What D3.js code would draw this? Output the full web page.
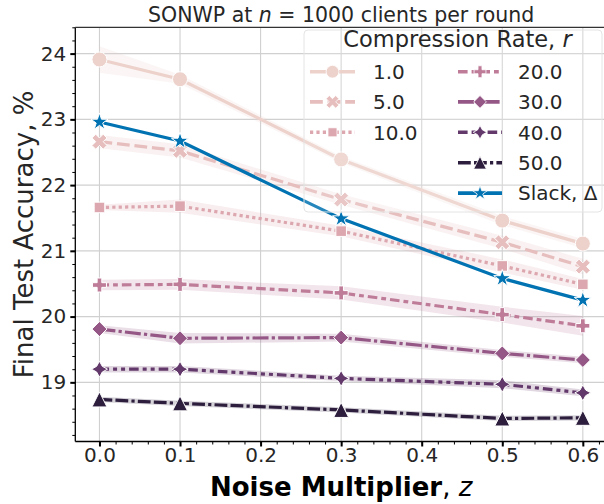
<!DOCTYPE html>
<html><head><meta charset="utf-8">
<script src="https://cdn.jsdelivr.net/npm/d3@7"></script>
<style>body{margin:0;background:#fff} svg{display:block;font-family:"DejaVu Sans",sans-serif}</style>
</head><body>
<svg id="c" width="604" height="504"></svg>
<script>
// ---------------- data ----------------
const noise = [0.0, 0.1, 0.3, 0.5, 0.6];
const rateLabels = ["1.0", "5.0", "10.0", "20.0", "30.0", "40.0", "50.0"];
const rateValues = [1, 5, 10, 20, 30, 40, 50];
const acc_r1  = [23.91, 23.61, 22.39, 21.46, 21.11];
const acc_r5  = [22.66, 22.52, 21.78, 21.13, 20.76];
const acc_r10 = [21.66, 21.68, 21.30, 20.77, 20.49];
const acc_r20 = [20.48, 20.49, 20.36, 20.03, 19.86];
const acc_r30 = [19.81, 19.67, 19.68, 19.44, 19.34];
const acc_r40 = [19.20, 19.20, 19.06, 18.97, 18.84];
const acc_r50 = [18.74, 18.68, 18.58, 18.45, 18.46];
// half-widths of the shaded confidence bands
const ci_r1  = [0.20, 0.07, 0.05, 0.07, 0.07];
const ci_r5  = [0.10, 0.10, 0.08, 0.10, 0.12];
const ci_r10 = [0.04, 0.10, 0.08, 0.10, 0.08];
const ci_r20 = [0.08, 0.08, 0.10, 0.12, 0.15];
const ci_r30 = [0.06, 0.08, 0.06, 0.05, 0.05];
const ci_r40 = [0.05, 0.05, 0.04, 0.06, 0.05];
const ci_r50 = [0.04, 0.04, 0.04, 0.04, 0.04];
const slackAcc = [22.96, 22.67, 21.49, 20.58, 20.25];
const slackLabel = "Slack, Δ";
const xTicks = [0.0, 0.1, 0.2, 0.3, 0.4, 0.5, 0.6];
const yTicks = [19, 20, 21, 22, 23, 24];

const accs = [acc_r1, acc_r5, acc_r10, acc_r20, acc_r30, acc_r40, acc_r50];
const cis = [ci_r1, ci_r5, ci_r10, ci_r20, ci_r30, ci_r40, ci_r50];

// ---------------- styles ----------------
const markers = ["o", "X", "sq", "P", "D", "S4", "^"];
const dashes = [[], [4, 1.5], [1, 1], [3, 1.25, 1.5, 1.25], [5, 1, 1, 1], [3, 1.25, 1.25, 1.25, 1.25, 1.25], [4, 1, 4, 1, 1, 1]];
const LW = 3.2;
const slackColor = "#0173b2";
const textColor = "#262626";

// seaborn default cubehelix palette for numeric hue
function cubehelix(x) {
  const gamma = 1, start = 0, rot = 0.4, hue = 0.8;
  const f = (p0, p1) => {
    const xg = Math.pow(x, gamma);
    const a = hue * xg * (1 - xg) / 2;
    const phi = 2 * Math.PI * (start / 3 + rot * x);
    return Math.max(0, Math.min(1, xg + a * (p0 * Math.cos(phi) + p1 * Math.sin(phi))));
  };
  return d3.rgb(255 * f(-0.14861, 1.78277), 255 * f(-0.29227, -0.90649), 255 * f(1.97294, 0)).formatHex();
}
const rmin = d3.min(rateValues), rmax = d3.max(rateValues);
const colors = rateValues.map(r => cubehelix(0.85 - 0.7 * (r - rmin) / (rmax - rmin)));

// ---------------- layout ----------------
const svg = d3.select("#c");
const L = 75.3, R = 607, T = 27.3, B = 441.5;
const x = d3.scaleLinear().domain([-0.03, 0.63]).range([L, R]);
const y = d3.scaleLinear().domain([18.1, 24.4]).range([B, T]);

svg.append("defs").append("clipPath").attr("id", "clip")
  .append("rect").attr("x", L).attr("y", T).attr("width", R - L).attr("height", B - T);

// grid
const grid = svg.append("g");
grid.selectAll(".gx").data(xTicks).enter().append("line")
  .attr("x1", d => x(d)).attr("x2", d => x(d)).attr("y1", T).attr("y2", B)
  .attr("stroke", "#d0d0d0").attr("stroke-width", 1.1);
grid.selectAll(".gy").data(yTicks).enter().append("line")
  .attr("y1", d => y(d)).attr("y2", d => y(d)).attr("x1", L).attr("x2", R)
  .attr("stroke", "#d0d0d0").attr("stroke-width", 1.1);

// marker paths (matplotlib-like)
function poly(pts) { return "M" + pts.map(p => p[0].toFixed(2) + "," + p[1].toFixed(2)).join("L") + "Z"; }
function regPoly(n, r, angDeg) {
  const pts = [];
  for (let i = 0; i < n; i++) {
    const th = 2 * Math.PI / n * i + Math.PI / 2 + angDeg * Math.PI / 180;
    pts.push([r * Math.cos(th), -r * Math.sin(th)]);
  }
  return poly(pts);
}
function regStar(n, r, inner, angDeg) {
  const pts = [];
  for (let i = 0; i < 2 * n; i++) {
    const th = 2 * Math.PI / (2 * n) * i + Math.PI / 2 + angDeg * Math.PI / 180;
    const rr = i % 2 === 0 ? r : r * inner;
    pts.push([rr * Math.cos(th), -rr * Math.sin(th)]);
  }
  return poly(pts);
}
function markerPath(type, s) {
  const h = s / 2;
  switch (type) {
    case "o": return d3.arc()({innerRadius: 0, outerRadius: h, startAngle: 0, endAngle: 2 * Math.PI});
    case "X": return poly([[-1, -2], [0, -1], [1, -2], [2, -1], [1, 0], [2, 1], [1, 2], [0, 1], [-1, 2], [-2, 1], [-1, 0], [-2, -1]].map(p => [p[0] * s / 4, p[1] * s / 4]));
    case "P": return poly([[-1, -3], [1, -3], [1, -1], [3, -1], [3, 1], [1, 1], [1, 3], [-1, 3], [-1, 1], [-3, 1], [-3, -1], [-1, -1]].map(p => [p[0] * s / 6, p[1] * s / 6]));
    case "sq": return regPoly(4, h, 45);
    case "D": return regPoly(4, h, 0);
    case "S4": return regStar(4, h, 0.5, 0);
    case "^": return poly([[0, -h], [-h, h], [h, h]]);
    case "*": return regStar(5, h, 0.381966, 0);
  }
}
const msize = {o: 15, X: 15, sq: 15, P: 14, D: 15, S4: 16, "^": 15, "*": 18};

const plot = svg.append("g").attr("clip-path", "url(#clip)");
const line = d3.line().x(d => x(d[0])).y(d => y(d[1]));
const area = d3.area().x(d => x(d[0])).y0(d => y(d[1] - d[2])).y1(d => y(d[1] + d[2]));

// bands
accs.forEach((acc, i) => {
  const pts = noise.map((n, j) => [n, acc[j], cis[i][j]]);
  plot.append("path").attr("d", area(pts)).attr("fill", colors[i]).attr("fill-opacity", 0.2);
});
// lines + markers
function drawSeries(acc, color, dash, mk) {
  const pts = noise.map((n, j) => [n, acc[j]]);
  plot.append("path").attr("d", line(pts)).attr("fill", "none")
    .attr("stroke", color).attr("stroke-width", LW)
    .attr("stroke-dasharray", dash.length ? dash.map(d => d * LW).join(",") : null);
  plot.selectAll(null).data(pts).enter().append("path")
    .attr("transform", d => `translate(${x(d[0])},${y(d[1])})`)
    .attr("d", markerPath(mk, msize[mk]))
    .attr("fill", color).attr("stroke", "#fff").attr("stroke-width", 1);
}
accs.forEach((acc, i) => drawSeries(acc, colors[i], dashes[i], markers[i]));
drawSeries(slackAcc, slackColor, [], "*");

// axes
const xAxis = svg.append("g").attr("transform", `translate(0,${B})`);
xAxis.call(d3.axisBottom(x).tickValues(d3.range(0, 0.631, 0.02)).tickSize(3).tickFormat("").tickSizeOuter(0));
xAxis.call(g => g.select(".domain").remove());
const xAxisM = svg.append("g").attr("transform", `translate(0,${B})`);
xAxisM.call(d3.axisBottom(x).tickValues(xTicks).tickSize(5).tickSizeOuter(0).tickFormat(d3.format(".1f")));
xAxisM.select(".domain").attr("stroke", "#000").attr("stroke-width", 1.3).attr("d", `M${L},0H${R}`);
xAxisM.selectAll(".tick line").attr("stroke-width", 2);
xAxisM.selectAll(".tick text").attr("y", 20.5).attr("dy", 0).attr("font-size", 20).attr("fill", textColor).attr("font-family", "DejaVu Sans");

const yAxis = svg.append("g").attr("transform", `translate(${L},0)`);
yAxis.call(d3.axisLeft(y).tickValues(d3.range(18.2, 24.401, 0.2)).tickSize(3).tickFormat("").tickSizeOuter(0));
yAxis.call(g => g.select(".domain").remove());
const yAxisM = svg.append("g").attr("transform", `translate(${L},0)`);
yAxisM.call(d3.axisLeft(y).tickValues(yTicks).tickSize(5).tickSizeOuter(0).tickFormat(d3.format("d")));
yAxisM.select(".domain").attr("stroke", "#000").attr("stroke-width", 1.3).attr("d", `M0,${T}V${B}`);
yAxisM.selectAll(".tick line").attr("stroke-width", 2);
yAxisM.selectAll(".tick text").attr("x", -9).attr("font-size", 20).attr("fill", textColor).attr("font-family", "DejaVu Sans");

// top spine
svg.append("line").attr("x1", L).attr("x2", R).attr("y1", T).attr("y2", T).attr("stroke", "#333").attr("stroke-width", 1.2);

// title
const title = svg.append("text").attr("x", (L + R) / 2).attr("y", 22).attr("text-anchor", "middle")
  .attr("font-size", 20.5).attr("fill", textColor);
title.append("tspan").text("SONWP at ");
title.append("tspan").attr("font-style", "italic").text("n");
title.append("tspan").text(" = 1000 clients per round");

// axis labels
svg.append("text").attr("transform", `translate(33,${(T + B) / 2}) rotate(-90)`).attr("text-anchor", "middle")
  .attr("font-size", 26).attr("fill", textColor).text("Final Test Accuracy, %");
const xl = svg.append("text").attr("x", (L + R) / 2).attr("y", 496).attr("text-anchor", "middle")
  .attr("font-size", 26).attr("fill", "#000");
xl.append("tspan").attr("font-weight", "bold").text("Noise Multiplier");
xl.append("tspan").text(", ");
xl.append("tspan").attr("font-style", "italic").text("z");

// legend
const lg = svg.append("g");
lg.append("rect").attr("x", 304).attr("y", 30).attr("width", 298).attr("height", 182).attr("rx", 4)
  .attr("fill", "#fff").attr("fill-opacity", 0.15).attr("stroke", "#e4e4e4").attr("stroke-width", 1);
const lt = lg.append("text").attr("x", 457.5).attr("y", 46.5).attr("text-anchor", "middle")
  .attr("font-size", 22.5).attr("fill", textColor);
lt.append("tspan").text("Compression Rate, ");
lt.append("tspan").attr("font-style", "italic").text("r");
const entries = rateLabels.map((lab, i) => ({lab, color: colors[i], dash: dashes[i], mk: markers[i]}));
entries.push({lab: slackLabel, color: slackColor, dash: [], mk: "*"});
const rowY = [71.7, 101.9, 132.3, 162.7, 193.1];
entries.forEach((e, i) => {
  const col = i < 3 ? 0 : 1;
  const row = i < 3 ? i : i - 3;
  const hx0 = col === 0 ? 310 : 458, hx1 = col === 0 ? 355 : 502, tx = col === 0 ? 373 : 518;
  const yy = rowY[row];
  lg.append("line").attr("x1", hx0).attr("x2", hx1).attr("y1", yy).attr("y2", yy)
    .attr("stroke", e.color).attr("stroke-width", LW + 0.4)
    .attr("stroke-dasharray", e.dash.length ? e.dash.map(d => d * LW).join(",") : null);
  lg.append("path").attr("transform", `translate(${(hx0 + hx1) / 2},${yy})`)
    .attr("d", markerPath(e.mk, msize[e.mk] * 0.85)).attr("fill", e.color).attr("stroke", "#fff").attr("stroke-width", 0.8);
  lg.append("text").attr("x", tx).attr("y", yy).attr("dy", "0.36em").attr("font-size", 20).attr("fill", textColor).text(e.lab);
});
</script>
</body></html>
